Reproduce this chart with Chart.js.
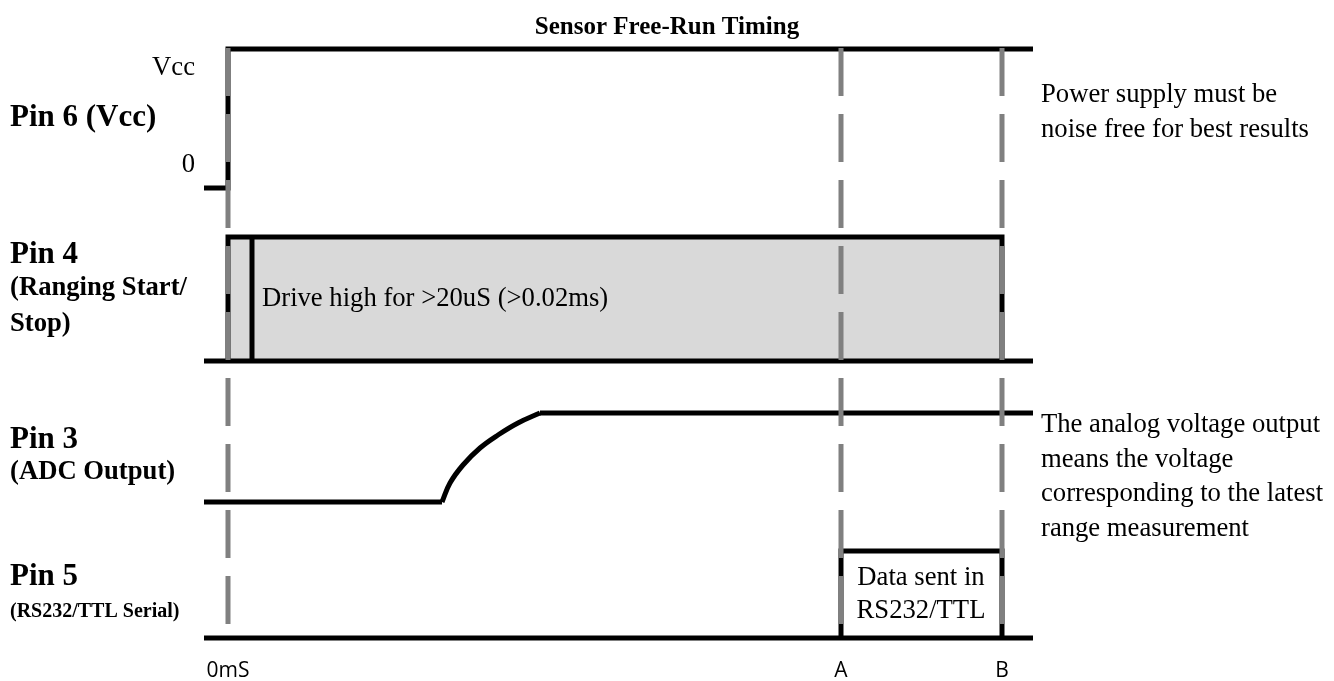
<!DOCTYPE html>
<html>
<head>
<meta charset="utf-8">
<title>Sensor Free-Run Timing</title>
<script src="https://cdn.jsdelivr.net/npm/chart.js@4.4.0/dist/chart.umd.min.js"></script>
<style>
  body { margin: 0; background: #fff; }
</style>
</head>
<body>
<canvas id="timing" width="1334" height="681"></canvas>
<script>
// tick marks on the time axis and the level axis
var xTicks = [0, 613, 774];
var xTickLabels = ['0mS', 'A', 'B'];
var yTicks = [481, 578];
var yTickLabels = ['0', 'Vcc'];

// signal traces, [time, level]
var pin6 = [[-24, 458], [0, 458], [0, 597], [805, 597]];
var pin4Box = [[0, 285], [0, 409], [774, 409], [774, 285]];
var pin4Low = [[-24, 285], [805, 285]];
var pin4Edge = [[24, 285], [24, 409]];
var pin3Low = [[-24, 144], [214, 144]];
var pin3Rise = [[214, 144], [222, 163], [235, 181], [252, 198], [270, 211], [290, 223], [312, 233]];
var pin3High = [[312, 233], [805, 233]];
var pin5Low = [[-24, 8], [805, 8]];
var pin5Box = [[613, 8], [613, 95], [774, 95], [774, 8]];

// dashed markers at 0mS, A and B
var markers = [0, 613, 774];
var markerTop = 598;
var markerBottom = 21;

var serif = '"Liberation Serif", "Times New Roman", serif';

function trace(pts, extra) {
    return Object.assign({
        data: pts.map(function(p) { return { x: p[0], y: p[1] }; }),
        borderColor: '#000',
        borderWidth: 5,
        pointRadius: 0,
        fill: false,
        tension: 0,
        clip: false,
        borderJoinStyle: 'miter',
        order: 2
    }, extra || {});
}

var datasets = [
    trace(pin4Box, { fill: { value: pin4Box[0][1] }, backgroundColor: '#d9d9d9', order: 3 }),
    trace(pin6),
    trace(pin4Low),
    trace(pin4Edge),
    trace(pin3Low),
    trace(pin3Rise, { tension: 0.4 }),
    trace(pin3High),
    trace(pin5Low),
    trace(pin5Box)
];
markers.forEach(function(m) {
    datasets.push(trace([[m, markerTop], [m, markerBottom]], {
        borderColor: '#808080',
        borderDash: [48, 18],
        order: 1
    }));
});

var notes = {
    id: 'notes',
    afterDraw: function(chart) {
        var ctx = chart.ctx;
        ctx.save();
        ctx.fillStyle = '#000';
        ctx.textBaseline = 'alphabetic';
        function txt(s, x, y, font, align) {
            ctx.font = font;
            ctx.textAlign = align || 'left';
            ctx.fillText(s, x, y);
        }
        var big = 'bold 31px ' + serif;
        var mid = 'bold 26.67px ' + serif;
        var reg = '26.67px ' + serif;

        txt('Pin 6 (Vcc)', 10, 126, big);
        txt('Pin 4', 10, 263, big);
        txt('(Ranging Start/', 10, 295, mid);
        txt('Stop)', 10, 331, mid);
        txt('Pin 3', 10, 448, big);
        txt('(ADC Output)', 10, 479, mid);
        txt('Pin 5', 10, 585, big);
        txt('(RS232/TTL Serial)', 10, 617, 'bold 20px ' + serif);

        txt('Drive high for >20uS (>0.02ms)', 262, 306, reg);
        txt('Data sent in', 921, 585, reg, 'center');
        txt('RS232/TTL', 921, 618, reg, 'center');

        txt('Power supply must be', 1041, 102, reg);
        txt('noise free for best results', 1041, 137, reg);
        txt('The analog voltage output', 1041, 432, reg);
        txt('means the voltage', 1041, 466.5, reg);
        txt('corresponding to the latest', 1041, 501, reg);
        txt('range measurement', 1041, 535.5, reg);
        ctx.restore();
    }
};

new Chart(document.getElementById('timing'), {
    type: 'line',
    data: { datasets: datasets },
    options: {
        responsive: false,
        animation: false,
        layout: { padding: 0 },
        plugins: {
            legend: { display: false },
            tooltip: { enabled: false },
            title: {
                display: true,
                text: 'Sensor Free-Run Timing',
                color: '#000',
                font: { family: serif, size: 25, weight: 'bold', lineHeight: 1 },
                padding: { top: 15, bottom: 1 }
            }
        },
        scales: {
            x: {
                type: 'linear',
                min: -24,
                max: 1106,
                grid: { display: false, drawTicks: false },
                border: { display: false },
                afterBuildTicks: function(axis) {
                    axis.ticks = xTicks.map(function(v) { return { value: v }; });
                },
                afterFit: function(axis) { axis.height = 35; },
                ticks: {
                    padding: 12,
                    maxRotation: 0,
                    autoSkip: false,
                    color: '#000',
                    font: { family: '"Open Sans"', size: 21 },
                    callback: function(v, i) { return xTickLabels[i]; }
                }
            },
            y: {
                type: 'linear',
                min: 0,
                max: 605,
                grid: { display: false, drawTicks: false },
                border: { display: false },
                afterBuildTicks: function(axis) {
                    axis.ticks = yTicks.map(function(v) { return { value: v }; });
                },
                afterFit: function(axis) { axis.width = 204; },
                ticks: {
                    padding: 9,
                    autoSkip: false,
                    color: '#000',
                    font: { family: serif, size: 26.67 },
                    callback: function(v, i) { return yTickLabels[i]; }
                }
            }
        }
    },
    plugins: [notes]
});
</script>
</body>
</html>
